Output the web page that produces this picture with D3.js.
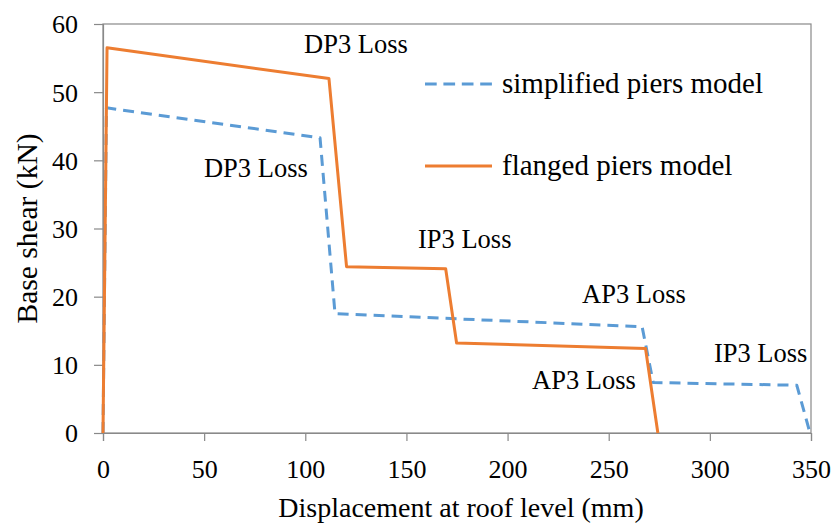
<!DOCTYPE html>
<html>
<head>
<meta charset="utf-8">
<script src="https://cdn.jsdelivr.net/npm/d3@7"></script>
<style>
  html, body { margin: 0; padding: 0; background: #fff; }
  svg text { font-family: 'Liberation Serif', 'DejaVu Serif', serif !important; }
</style>
</head>
<body>
<svg id="chart" width="836" height="525"></svg>
<script>
// ---- data ----
const xTicks = [0, 50, 100, 150, 200, 250, 300, 350];
const yTicks = [0, 10, 20, 30, 40, 50, 60];

const seriesNames = ["simplified piers model", "flanged piers model"];

const simplifiedDisp  = [0, 1.7, 107.3, 114.7, 266.5, 272.0, 343.0, 349.5];
const simplifiedShear = [0, 47.7, 43.3, 17.5, 15.6, 7.4, 7.0, 0];

const flangedDisp  = [0, 2.0, 111.7, 120.4, 169.4, 174.8, 268.2, 274.3];
const flangedShear = [0, 56.5, 52.0, 24.4, 24.1, 13.2, 12.4, 0];

const annotationLabels = ["DP3 Loss", "DP3 Loss", "IP3 Loss", "AP3 Loss", "AP3 Loss", "IP3 Loss"];
const annotationDisp   = [99.4, 49.9, 155.7, 236.8, 212.1, 302.0];
const annotationShear  = [55.7, 37.6, 27.1, 19.1, 6.45, 10.4];

const xTitle = "Displacement at roof level (mm)";
const yTitle = "Base shear (kN)";

// ---- layout ----
const W = 836, H = 525;
const margin = { left: 103, right: 25, top: 24, bottom: 92 };
const gray = "#898989";
const blue = "#5B9BD5", orange = "#ED7D31";
const FONT = "'Liberation Serif', 'DejaVu Serif', serif";

const svg = d3.select("#chart");
const x = d3.scaleLinear().domain([0, 350]).range([margin.left, W - margin.right]);
const y = d3.scaleLinear().domain([0, 60]).range([H - margin.bottom, margin.top]);

// plot area border
svg.append("rect")
  .attr("x", x(0)).attr("y", y(60))
  .attr("width", x(350) - x(0)).attr("height", y(0) - y(60))
  .attr("fill", "none").attr("stroke", gray).attr("stroke-width", 1.2);

// y axis
const yAxis = svg.append("g")
  .attr("transform", `translate(${x(0)},0)`)
  .call(d3.axisLeft(y).tickValues(yTicks).tickSize(9).tickPadding(16).tickFormat(d3.format("d")));
yAxis.attr("font-family", FONT);
yAxis.select(".domain").attr("stroke", gray).attr("stroke-width", 1.2);
yAxis.selectAll(".tick line").attr("stroke", gray).attr("stroke-width", 1.2);
yAxis.selectAll(".tick text")
  .attr("fill", "#000").attr("font-size", 26)
  .attr("dy", "0.34em");

// x axis
const xAxis = svg.append("g")
  .attr("transform", `translate(0,${y(0)})`)
  .call(d3.axisBottom(x).tickValues(xTicks).tickSize(8).tickPadding(19).tickFormat(d3.format("d")));
xAxis.attr("font-family", FONT);
xAxis.select(".domain").attr("stroke", gray).attr("stroke-width", 1.2);
xAxis.selectAll(".tick line").attr("stroke", gray).attr("stroke-width", 1.2);
xAxis.selectAll(".tick text")
  .attr("fill", "#000").attr("font-size", 26)
  .attr("dy", "0.71em");

// axis titles
svg.append("text")
  .attr("x", (x(0) + x(350)) / 2 + 4).attr("y", 517)
  .attr("text-anchor", "middle").attr("font-size", 28).attr("fill", "#000")
  .attr("font-family", FONT)
  .text(xTitle);

svg.append("text")
  .attr("transform", `translate(37,${(y(0) + y(60)) / 2}) rotate(-90)`)
  .attr("text-anchor", "middle").attr("font-size", 29.5).attr("fill", "#000")
  .attr("font-family", FONT)
  .text(yTitle);

// lines
const line = d3.line().x(d => x(d[0])).y(d => y(d[1]));
const simplified = d3.zip(simplifiedDisp, simplifiedShear);
const flanged = d3.zip(flangedDisp, flangedShear);

svg.append("path").datum(simplified)
  .attr("d", line).attr("fill", "none")
  .attr("stroke", blue).attr("stroke-width", 3)
  .attr("stroke-dasharray", "11,7").attr("stroke-linejoin", "round");

svg.append("path").datum(flanged)
  .attr("d", line).attr("fill", "none")
  .attr("stroke", orange).attr("stroke-width", 3).attr("stroke-linejoin", "round");

// annotations
annotationLabels.forEach((lab, i) => {
  svg.append("text")
    .attr("x", x(annotationDisp[i])).attr("y", y(annotationShear[i]))
    .attr("font-size", 26.5).attr("fill", "#000")
    .attr("font-family", FONT)
    .text(lab);
});

// legend
const legend = svg.append("g");
const legendY = [84, 166];
const legendColors = [blue, orange];
const legendDash = ["11.7,6.7", null];
seriesNames.forEach((name, i) => {
  legend.append("line")
    .attr("x1", 425).attr("x2", 492)
    .attr("y1", legendY[i]).attr("y2", legendY[i])
    .attr("stroke", legendColors[i]).attr("stroke-width", 3)
    .attr("stroke-dasharray", legendDash[i]);
  legend.append("text")
    .attr("x", 502).attr("y", legendY[i] + 9)
    .attr("font-size", 29).attr("fill", "#000")
    .attr("font-family", FONT)
    .text(name);
});
</script>
</body>
</html>
